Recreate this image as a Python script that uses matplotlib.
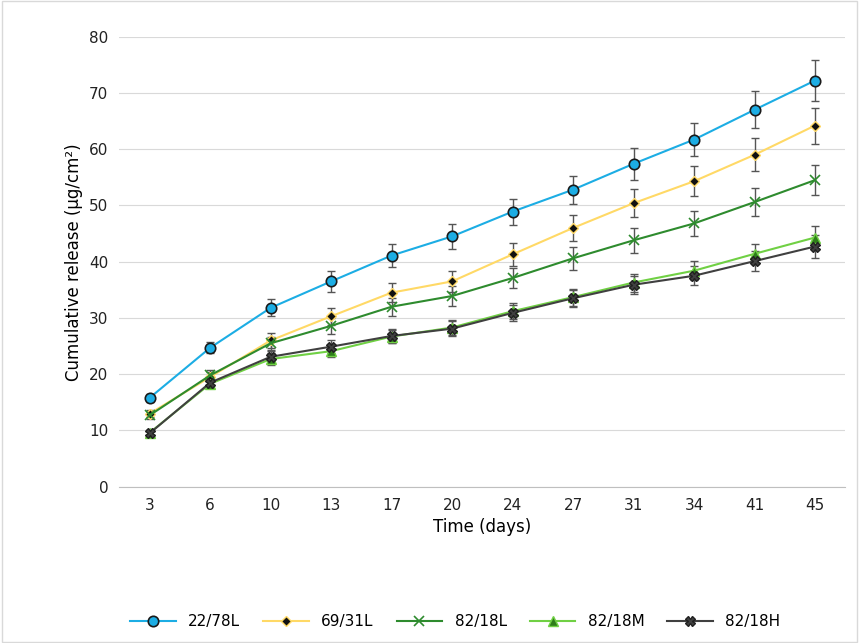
import matplotlib
matplotlib.use("Agg")
import matplotlib.pyplot as plt
import numpy as np

days = ["3","6","10","13","17","20","24","27","31","34","41","45"]
s1 = [15.8,24.7,31.8,36.5,41.1,44.5,48.9,52.8,57.4,61.7,67.0,72.2]
s2 = [13.0,19.5,26.0,30.3,34.5,36.5,41.3,46.0,50.4,54.3,59.0,64.2]
s3 = [12.7,19.8,25.5,28.6,32.0,33.9,37.1,40.6,43.8,46.8,50.6,54.5]
s4 = [9.6,18.3,22.7,24.1,26.7,28.3,31.2,33.7,36.3,38.4,41.4,44.3]
s5 = [9.5,18.5,23.1,24.9,26.8,28.1,30.9,33.5,35.9,37.5,40.1,42.7]
e1 = [0.7,1.0,1.5,1.8,2.0,2.2,2.3,2.5,2.8,3.0,3.3,3.6]
e2 = [0.6,0.9,1.3,1.5,1.7,1.8,2.0,2.3,2.5,2.7,2.9,3.2]
e3 = [0.6,0.9,1.2,1.4,1.6,1.7,1.8,2.0,2.2,2.3,2.5,2.7]
e4 = [0.5,0.8,1.0,1.1,1.2,1.3,1.4,1.5,1.6,1.7,1.8,2.0]
e5 = [0.5,0.8,1.0,1.1,1.2,1.3,1.4,1.5,1.6,1.7,1.8,2.0]
names = ["22/78L","69/31L","82/18L","82/18M","82/18H"]

fig = plt.figure(figsize=(8.59,6.43), dpi=100)
ax = fig.add_axes([0.139, 0.243, 0.845, 0.70])
x = np.arange(len(days))
styles = [
    dict(color="#1CADE4", marker="o", ms=7.5, mfc="#1CADE4", mec="#1a1a1a", mew=1.2),
    dict(color="#FFD966", marker="D", ms=5, mfc="#111111", mec="#FFD966", mew=1),
    dict(color="#2E8B2E", marker="x", ms=7, mec="#2E8B2E", mew=1.2),
    dict(color="#70D044", marker="^", ms=6.5, mfc="#2E7D1A", mec="#70D044", mew=1),
    dict(color="#404040", marker="X", ms=7, mfc="#404040", mec="#202020", mew=1),
]
for s, e, n, st in zip([s1,s2,s3,s4,s5],[e1,e2,e3,e4,e5],names,styles):
    ax.errorbar(x, s, yerr=e, ecolor="#555555", elinewidth=1, capsize=3, capthick=1, zorder=1, fmt="none")
    ax.plot(x, s, lw=1.5, label=n, zorder=2, **st)
ax.set_ylim(0,80)
ax.set_yticks(range(0,81,10))
ax.set_xlim(-0.5, len(days)-0.5)
ax.set_xticks(x)
ax.set_xticklabels(days)
ax.grid(axis="y", color="#D9D9D9", lw=0.8)
ax.set_axisbelow(True)
for sp in ["top","right","left"]:
    ax.spines[sp].set_visible(False)
ax.spines["bottom"].set_color("#BFBFBF")
ax.tick_params(length=0, labelsize=11, colors="#222222", pad=8)
ax.set_xlabel("Time (days)", fontsize=12)
ax.set_ylabel("Cumulative release (µg/cm²)", fontsize=12)
fig.legend(loc="lower center", ncol=5, frameon=False, bbox_to_anchor=(0.53,0.0), fontsize=11,
           handlelength=3, columnspacing=1.5)
fig.patches.append(plt.Rectangle((0.002,0.002),0.996,0.996, transform=fig.transFigure, fill=False, ec="#D9D9D9", lw=1))
fig.savefig("out.png", dpi=100)
